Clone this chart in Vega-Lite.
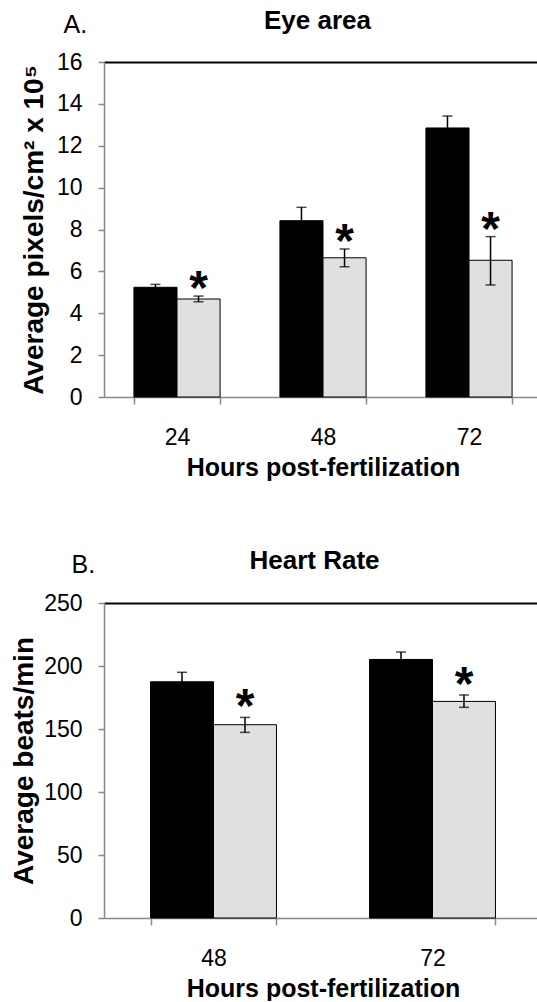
{
  "$schema": "https://vega.github.io/schema/vega-lite/v6.json",
  "padding": {"left": 10, "top": 8, "right": 0, "bottom": 0},
  "autosize": {"type": "pad"},
  "background": "white",
  "config": {
    "font": "Liberation Sans",
    "view": {"stroke": null},
    "axis": {"grid": false, "labelColor": "#000", "titleColor": "#000", "labelFont": "Liberation Sans", "titleFont": "Liberation Sans"},
    "title": {"fontSize": 26, "fontWeight": "bold", "color": "#000", "font": "Liberation Sans"}
  },
  "spacing": 68,
  "resolve": {"scale": {"xOffset": "independent", "x": "independent", "y": "independent"}},
  "vconcat": [
    {
      "width": 433,
      "height": 335,
      "title": {"text": "Eye area", "anchor": "middle", "frame": "group", "dx": -3, "offset": -22},
      "data": {"values": [
        {"hour": "24", "group": "Control", "mean": 5.24, "lo": 5.10, "hi": 5.38, "star": ""},
        {"hour": "24", "group": "Treated", "mean": 4.68, "lo": 4.55, "hi": 4.82, "star": "*"},
        {"hour": "48", "group": "Control", "mean": 8.42, "lo": 7.78, "hi": 9.06, "star": ""},
        {"hour": "48", "group": "Treated", "mean": 6.65, "lo": 6.22, "hi": 7.07, "star": "*"},
        {"hour": "72", "group": "Control", "mean": 12.85, "lo": 12.28, "hi": 13.42, "star": ""},
        {"hour": "72", "group": "Treated", "mean": 6.53, "lo": 5.35, "hi": 7.66, "star": "*"}
      ]},
      "resolve": {"axis": {"x": "independent"}},
      "layer": [
        {
          "mark": {"type": "bar", "stroke": "#000", "strokeWidth": 1},
          "encoding": {
            "x": {"field": "hour", "type": "nominal",
              "scale": {"range": [0, 438], "paddingInner": 0.41, "paddingOuter": 0.205},
              "axis": {"orient": "bottom", "title": "Hours post-fertilization", "labelAngle": 0,
                "tickBand": "extent", "domainColor": "#888", "domainWidth": 1.5, "tickColor": "#888",
                "tickWidth": 1.5, "tickSize": 7, "labelFontSize": 23, "labelPadding": 22,
                "titleFontSize": 25, "titleFontWeight": "bold", "titlePadding": 6}},
            "xOffset": {"field": "group", "type": "nominal", "scale": {"paddingInner": 0, "paddingOuter": 0}},
            "y": {"field": "mean", "type": "quantitative",
              "scale": {"domain": [0, 16], "nice": false, "zero": true},
              "axis": {"title": "Average pixels/cm² x 10⁵", "values": [0, 2, 4, 6, 8, 10, 12, 14, 16],
                "domainColor": "#888", "domainWidth": 1.5, "tickColor": "#888", "tickWidth": 1.5,
                "tickSize": 6, "labelFontSize": 23, "labelPadding": 16, "titleFontSize": 28,
                "titleFontWeight": "bold", "titlePadding": 8}},
            "color": {"field": "group", "type": "nominal", "legend": null,
              "scale": {"domain": ["Control", "Treated"], "range": ["#000000", "#e0e0e0"]}}
          }
        },
        {
          "mark": {"type": "rule", "color": "#000", "strokeWidth": 1.5},
          "encoding": {
            "x": {"field": "hour", "type": "nominal", "axis": null},
            "xOffset": {"field": "group", "type": "nominal"},
            "y": {"field": "lo", "type": "quantitative", "scale": {"domain": [0, 16], "nice": false}},
            "y2": {"field": "hi"}
          }
        },
        {
          "mark": {"type": "tick", "orient": "horizontal", "size": 10, "thickness": 1.5, "color": "#000"},
          "encoding": {
            "x": {"field": "hour", "type": "nominal", "axis": null},
            "xOffset": {"field": "group", "type": "nominal"},
            "y": {"field": "hi", "type": "quantitative", "scale": {"domain": [0, 16], "nice": false}}
          }
        },
        {
          "mark": {"type": "tick", "orient": "horizontal", "size": 10, "thickness": 1.5, "color": "#000"},
          "encoding": {
            "x": {"field": "hour", "type": "nominal", "axis": null},
            "xOffset": {"field": "group", "type": "nominal"},
            "y": {"field": "lo", "type": "quantitative", "scale": {"domain": [0, 16], "nice": false}}
          }
        },
        {
          "mark": {"type": "text", "fontSize": 48, "fontWeight": "bold", "baseline": "alphabetic", "dy": 8, "color": "#000"},
          "encoding": {
            "x": {"field": "hour", "type": "nominal",
              "axis": {"orient": "top", "domain": true, "domainColor": "#000", "domainWidth": 2,
                "ticks": false, "labels": false, "title": "A.", "titleFontSize": 25,
                "titleFontWeight": "normal", "titleAngle": 0, "titleAlign": "left",
                "titleBaseline": "alphabetic", "titleX": -41, "titleY": -30}},
            "xOffset": {"field": "group", "type": "nominal"},
            "y": {"field": "hi", "type": "quantitative", "scale": {"domain": [0, 16], "nice": false}},
            "text": {"field": "star"}
          }
        }
      ]
    },
    {
      "width": 433,
      "height": 315,
      "title": {"text": "Heart Rate", "anchor": "middle", "frame": "group", "dx": -6, "offset": -22},
      "data": {"values": [
        {"hour": "48", "group": "Control", "mean": 187.5, "lo": 180, "hi": 195, "star": ""},
        {"hour": "48", "group": "Treated", "mean": 153.4, "lo": 147.3, "hi": 159.2, "star": "*"},
        {"hour": "72", "group": "Control", "mean": 205.2, "lo": 199.3, "hi": 211.1, "star": ""},
        {"hour": "72", "group": "Treated", "mean": 171.9, "lo": 167.2, "hi": 177, "star": "*"}
      ]},
      "resolve": {"axis": {"x": "independent"}},
      "layer": [
        {
          "mark": {"type": "bar", "stroke": "#000", "strokeWidth": 1},
          "encoding": {
            "x": {"field": "hour", "type": "nominal",
              "scale": {"range": [0, 438], "paddingInner": 0.425, "paddingOuter": 0.2125},
              "axis": {"orient": "bottom", "title": "Hours post-fertilization", "labelAngle": 0,
                "tickBand": "extent", "domainColor": "#888", "domainWidth": 1.5, "tickColor": "#888",
                "tickWidth": 1.5, "tickSize": 7, "labelFontSize": 23, "labelPadding": 22,
                "titleFontSize": 25, "titleFontWeight": "bold", "titlePadding": 6}},
            "xOffset": {"field": "group", "type": "nominal", "scale": {"paddingInner": 0, "paddingOuter": 0}},
            "y": {"field": "mean", "type": "quantitative",
              "scale": {"domain": [0, 250], "nice": false, "zero": true},
              "axis": {"title": "Average beats/min", "values": [0, 50, 100, 150, 200, 250],
                "domainColor": "#888", "domainWidth": 1.5, "tickColor": "#888", "tickWidth": 1.5,
                "tickSize": 6, "labelFontSize": 23, "labelPadding": 16, "titleFontSize": 28,
                "titleFontWeight": "bold", "titlePadding": 5}},
            "color": {"field": "group", "type": "nominal", "legend": null,
              "scale": {"domain": ["Control", "Treated"], "range": ["#000000", "#e0e0e0"]}}
          }
        },
        {
          "mark": {"type": "rule", "color": "#000", "strokeWidth": 1.5},
          "encoding": {
            "x": {"field": "hour", "type": "nominal", "axis": null},
            "xOffset": {"field": "group", "type": "nominal"},
            "y": {"field": "lo", "type": "quantitative", "scale": {"domain": [0, 250], "nice": false}},
            "y2": {"field": "hi"}
          }
        },
        {
          "mark": {"type": "tick", "orient": "horizontal", "size": 10, "thickness": 1.5, "color": "#000"},
          "encoding": {
            "x": {"field": "hour", "type": "nominal", "axis": null},
            "xOffset": {"field": "group", "type": "nominal"},
            "y": {"field": "hi", "type": "quantitative", "scale": {"domain": [0, 250], "nice": false}}
          }
        },
        {
          "mark": {"type": "tick", "orient": "horizontal", "size": 10, "thickness": 1.5, "color": "#000"},
          "encoding": {
            "x": {"field": "hour", "type": "nominal", "axis": null},
            "xOffset": {"field": "group", "type": "nominal"},
            "y": {"field": "lo", "type": "quantitative", "scale": {"domain": [0, 250], "nice": false}}
          }
        },
        {
          "mark": {"type": "text", "fontSize": 48, "fontWeight": "bold", "baseline": "alphabetic", "dy": 5, "color": "#000"},
          "encoding": {
            "x": {"field": "hour", "type": "nominal",
              "axis": {"orient": "top", "domain": true, "domainColor": "#000", "domainWidth": 2,
                "ticks": false, "labels": false, "title": "B.", "titleFontSize": 25,
                "titleFontWeight": "normal", "titleAngle": 0, "titleAlign": "left",
                "titleBaseline": "alphabetic", "titleX": -33, "titleY": -31}},
            "xOffset": {"field": "group", "type": "nominal"},
            "y": {"field": "hi", "type": "quantitative", "scale": {"domain": [0, 250], "nice": false}},
            "text": {"field": "star"}
          }
        }
      ]
    }
  ]
}
